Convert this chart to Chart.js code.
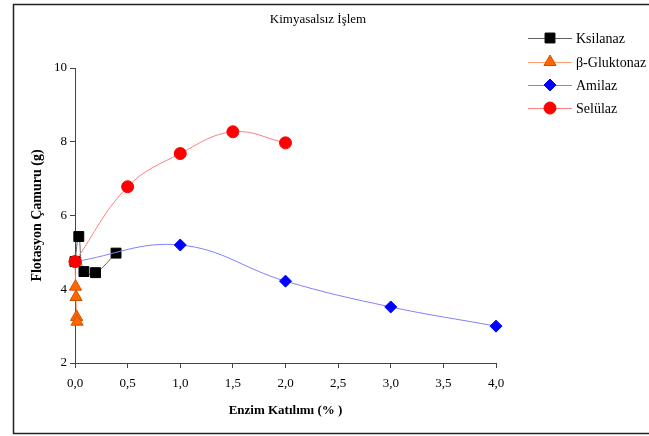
<!DOCTYPE html>
<html>
<head>
<meta charset="utf-8">
<script src="https://cdn.jsdelivr.net/npm/chart.js@4.4.0/dist/chart.umd.min.js"></script>
<style>
  html, body { margin: 0; padding: 0; background: #fff; }
  #wrap { width: 649px; height: 436px; }
</style>
</head>
<body>
<div id="wrap"><canvas id="chart"></canvas></div>
<script>
// ---- DATA ----
const seriesNames = ['Ksilanaz', 'β-Gluktonaz', 'Amilaz', 'Selülaz'];

const ksilanazX = [0, 0.036, 0.085, 0.195, 0.39];
const ksilanazY = [4.75, 5.43, 4.48, 4.45, 4.98];

const gluktonazX = [0, 0.005, 0.01, 0.015, 0.02];
const gluktonazY = [4.75, 4.07, 3.79, 3.25, 3.12];

const amilazX = [0, 1, 2, 3, 4];
const amilazY = [4.75, 5.2, 4.22, 3.52, 3.0];

const selulazX = [0, 0.5, 1, 1.5, 2];
const selulazY = [4.75, 6.78, 7.68, 8.27, 7.97];

const xTicks = [0, 0.5, 1, 1.5, 2, 2.5, 3, 3.5, 4];
const yTicks = [2, 4, 6, 8, 10];

const FONT = "'Liberation Serif', 'Times New Roman', serif";

function pts(xs, ys) { return xs.map((x, i) => ({ x: x, y: ys[i] })); }

// ---- STYLE PER SERIES ----
const styles = [
  { line: '#606060', fill: '#000000', border: '#000000', shape: 'rect',     r: 7 },
  { line: '#ffa070', fill: '#ff6600', border: '#cc5200', shape: 'triangle', r: 7 },
  { line: '#8080ff', fill: '#0000ff', border: '#0000ff', shape: 'rectRot',  r: 6 },
  { line: '#ff8080', fill: '#ff0000', border: '#ff0000', shape: 'circle',   r: 6 },
];
const seriesData = [
  pts(ksilanazX, ksilanazY),
  pts(gluktonazX, gluktonazY),
  pts(amilazX, amilazY),
  pts(selulazX, selulazY),
];
const drawOrder = [3, 2, 1, 0]; // Selülaz on top

// ---- FRAME, TITLE, LEGEND ----
const decorPlugin = {
  id: 'decor',
  afterDraw(chart) {
    const ctx = chart.ctx;
    ctx.save();
    // outer frame (right edge falls outside the picture)
    ctx.strokeStyle = '#222';
    ctx.lineWidth = 1.5;
    ctx.strokeRect(13.5, 4.5, 640, 429);
    // title
    ctx.fillStyle = '#000';
    ctx.font = '13px ' + FONT;
    ctx.textAlign = 'center';
    ctx.textBaseline = 'middle';
    ctx.fillText('Kimyasalsız İşlem', 318, 20);
    // legend
    const rows = [38, 62, 85, 108];
    ctx.font = '14px ' + FONT;
    ctx.textAlign = 'left';
    seriesNames.forEach((name, i) => {
      const s = styles[i];
      const y = rows[i];
      ctx.strokeStyle = s.line;
      ctx.lineWidth = 1;
      ctx.beginPath();
      ctx.moveTo(528, y + 0.5);
      ctx.lineTo(572, y + 0.5);
      ctx.stroke();
      ctx.fillStyle = s.fill;
      ctx.strokeStyle = s.border;
      Chart.helpers.drawPoint(ctx, { pointStyle: s.shape, radius: s.r, borderWidth: 1 }, 550, y);
      ctx.fillStyle = '#000';
      ctx.fillText(name, 576, y + 1);
    });
    ctx.restore();
  }
};

new Chart(document.getElementById('chart'), {
  type: 'scatter',
  data: {
    datasets: seriesNames.map((name, i) => ({
      label: name,
      data: seriesData[i],
      showLine: true,
      tension: 0.4,
      clip: false,
      borderColor: styles[i].line,
      borderWidth: 1,
      pointStyle: styles[i].shape,
      pointRadius: styles[i].r,
      pointHoverRadius: styles[i].r,
      pointBackgroundColor: styles[i].fill,
      pointBorderColor: styles[i].border,
      pointBorderWidth: 1,
      order: drawOrder[i],
    }))
  },
  options: {
    responsive: true,
    maintainAspectRatio: false,
    animation: false,
    layout: { padding: { left: 13, top: 68, right: 153, bottom: 0 } },
    plugins: {
      legend: { display: false },
      tooltip: { enabled: false },
    },
    scales: {
      x: {
        type: 'linear',
        min: 0, max: 4,
        afterBuildTicks: s => { s.ticks = xTicks.map(v => ({ value: v })); },
        afterFit: s => { s.height = 73; },
        grid: { drawOnChartArea: false, drawTicks: true, tickLength: 5, color: '#444' },
        border: { display: true, color: '#444', width: 1 },
        ticks: {
          color: '#000',
          padding: 8,
          font: { family: FONT, size: 13 },
          callback: v => v.toFixed(1).replace('.', ','),
        },
        title: {
          display: true,
          text: 'Enzim Katılımı (% )',
          color: '#000',
          font: { family: FONT, size: 13, weight: 'bold' },
          padding: { top: 0, bottom: 18 },
        }
      },
      y: {
        min: 2, max: 10,
        afterBuildTicks: s => { s.ticks = yTicks.map(v => ({ value: v })); },
        afterFit: s => { s.width = 62; },
        grid: { drawOnChartArea: false, drawTicks: true, tickLength: 5, color: '#444' },
        border: { display: true, color: '#444', width: 1 },
        ticks: {
          color: '#000',
          padding: 3,
          font: { family: FONT, size: 13 },
        },
        title: {
          display: true,
          text: 'Flotasyon Çamuru (g)',
          color: '#000',
          font: { family: FONT, size: 14, weight: 'bold' },
          padding: { top: 16, bottom: 0 },
        }
      }
    }
  },
  plugins: [decorPlugin]
});
</script>
</body>
</html>
